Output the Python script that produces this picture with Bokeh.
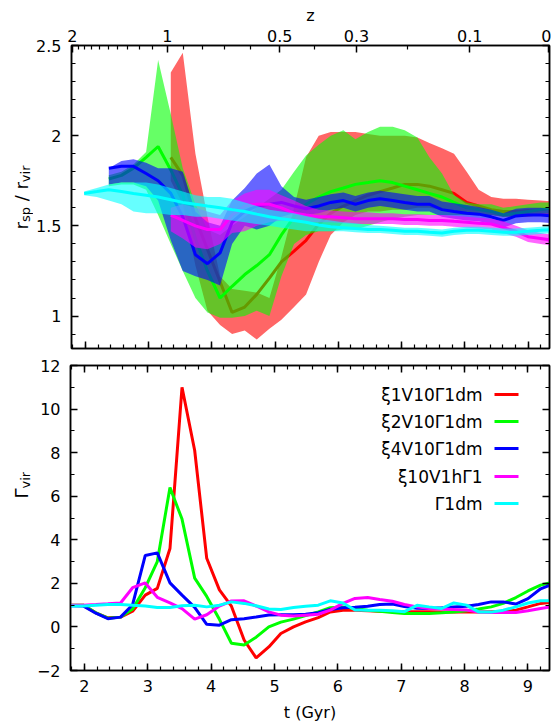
import math
from bokeh.plotting import figure
from bokeh.models import (Range1d, LinearAxis, FixedTicker, SingleIntervalTicker,
                          Label, BoxAnnotation)
from bokeh.layouts import column, row
from bokeh.embed import file_html
from bokeh.resources import INLINE

N = None

# ---------------- data ----------------
t_gyr = [1.79, 1.98, 2.18, 2.37, 2.57, 2.76, 2.96, 3.15, 3.35, 3.54,
         3.74, 3.93, 4.13, 4.32, 4.52, 4.71, 4.91, 5.10, 5.30, 5.49,
         5.69, 5.88, 6.08, 6.27, 6.47, 6.66, 6.86, 7.05, 7.25, 7.44,
         7.64, 7.83, 8.03, 8.22, 8.42, 8.61, 8.81, 9.00, 9.20, 9.39]

names = ["ξ1V10Γ1dm", "ξ2V10Γ1dm", "ξ4V10Γ1dm", "ξ10V1hΓ1", "Γ1dm"]
colors = ["#ff0000", "#00ff00", "#0000ff", "#ff00ff", "#00ffff"]

# top panel: r_sp / r_vir  (median line, lower and upper band edges)
rsp_red = [N]*8 + [1.88, 1.78, 1.54, 1.37, 1.19, 1.02, 1.05, 1.12, 1.21, 1.30,
                   1.36, 1.42, 1.51, 1.57, 1.61, 1.64, 1.67, 1.69, 1.71, 1.73,
                   1.73, 1.72, 1.70, 1.68, 1.63, 1.61, 1.59, 1.58, 1.58, 1.585,
                   1.59, 1.60]
lo_red = [N]*8 + [1.75, 1.62, 1.28, 1.03, 0.95, 0.90, 0.92, 0.87, 0.93, 0.98,
                  1.05, 1.12, 1.30, 1.45, 1.52, 1.56, 1.58, 1.58, 1.59, 1.59,
                  1.60, 1.60, 1.59, 1.58, 1.57, 1.56, 1.56, 1.55, 1.55, 1.55,
                  1.56, 1.56]
hi_red = [N]*8 + [2.35, 2.46, 1.90, 1.55, 1.22, 1.15, 1.14, 1.13, 1.10, 1.33,
                  1.60, 1.88, 2.00, 2.02, 2.02, 2.02, 2.01, 2.00, 2.00, 2.00,
                  1.99, 1.96, 1.93, 1.90, 1.80, 1.70, 1.66, 1.65, 1.65, 1.645,
                  1.64, 1.635]

rsp_green = [N]*3 + [1.76, 1.78, 1.82, 1.88, 1.94, 1.81, 1.67, 1.43, 1.25, 1.10,
                     1.165, 1.23, 1.28, 1.34, 1.45, 1.55, 1.62, 1.66, 1.69, 1.71,
                     1.73, 1.74, 1.75, 1.74, 1.72, 1.70, 1.68, 1.66, 1.63, 1.60,
                     1.59, 1.58, 1.56, 1.57, 1.58, 1.59, 1.60]
lo_green = [N]*3 + [1.72, 1.73, 1.73, 1.70, 1.56, 1.40, 1.25, 1.10, 1.02, 0.99,
                    0.99, 1.00, 1.03, 1.00, 1.22, 1.40, 1.45, 1.47, 1.47, 1.48,
                    1.48, 1.50, 1.52, 1.54, 1.55, 1.56, 1.56, 1.56, 1.56, 1.56,
                    1.56, 1.56, 1.55, 1.55, 1.56, 1.57, 1.57]
hi_green = [N]*3 + [1.78, 1.80, 1.84, 1.91, 2.42, 2.12, 1.82, 1.62, 1.48, 1.45,
                    1.50, 1.55, 1.60, 1.65, 1.70, 1.80, 1.89, 1.95, 2.00, 2.03,
                    1.98, 2.02, 2.05, 2.05, 2.03, 1.99, 1.88, 1.79, 1.67, 1.63,
                    1.62, 1.62, 1.60, 1.61, 1.62, 1.63, 1.63]

rsp_blue = [N]*3 + [1.82, 1.83, 1.83, 1.79, 1.75, 1.68, 1.55, 1.34, 1.29, 1.35,
                    1.52, 1.58, 1.61, 1.62, 1.63, 1.61, 1.595, 1.61, 1.63, 1.64,
                    1.62, 1.64, 1.65, 1.64, 1.63, 1.62, 1.62, 1.59, 1.58, 1.57,
                    1.565, 1.55, 1.53, 1.555, 1.56, 1.56, 1.555]
lo_blue = [N]*3 + [1.73, 1.74, 1.74, 1.72, 1.64, 1.42, 1.25, 1.22, 1.20, 1.17,
                   1.40, 1.50, 1.48, 1.50, 1.55, 1.57, 1.56, 1.57, 1.59, 1.60,
                   1.58, 1.60, 1.61, 1.60, 1.59, 1.58, 1.58, 1.55, 1.54, 1.53,
                   1.525, 1.51, 1.49, 1.515, 1.52, 1.52, 1.515]
hi_blue = [N]*3 + [1.82, 1.86, 1.87, 1.85, 1.82, 1.82, 1.80, 1.58, 1.52, 1.50,
                   1.64, 1.71, 1.79, 1.84, 1.72, 1.66, 1.645, 1.66, 1.675, 1.685,
                   1.665, 1.685, 1.695, 1.685, 1.675, 1.665, 1.665, 1.635, 1.625, 1.615,
                   1.605, 1.59, 1.57, 1.595, 1.60, 1.60, 1.595]

rsp_magenta = [N]*8 + [1.56, 1.53, 1.50, 1.48, 1.48, 1.56, 1.61, 1.62, 1.62, 1.60,
                       1.57, 1.56, 1.55, 1.55, 1.545, 1.54, 1.54, 1.54, 1.54, 1.535,
                       1.535, 1.53, 1.53, 1.525, 1.52, 1.515, 1.51, 1.49, 1.47, 1.44,
                       1.43, 1.42]
lo_magenta = [N]*8 + [1.47, 1.43, 1.38, 1.37, 1.40, 1.46, 1.47, 1.50, 1.52, 1.53,
                      1.53, 1.52, 1.52, 1.52, 1.515, 1.51, 1.51, 1.51, 1.51, 1.505,
                      1.505, 1.50, 1.50, 1.495, 1.49, 1.485, 1.48, 1.46, 1.44, 1.41,
                      1.40, 1.39]
hi_magenta = [N]*8 + [1.60, 1.62, 1.60, 1.58, 1.56, 1.64, 1.68, 1.70, 1.70, 1.67,
                      1.64, 1.61, 1.59, 1.585, 1.58, 1.575, 1.575, 1.57, 1.57, 1.565,
                      1.565, 1.56, 1.56, 1.555, 1.55, 1.545, 1.54, 1.525, 1.50, 1.475,
                      1.46, 1.45]

rsp_cyan = [N] + [1.68, 1.69, 1.70, 1.69, 1.68, 1.67, 1.66, 1.645, 1.63, 1.62,
                  1.61, 1.60, 1.59, 1.58, 1.565, 1.55, 1.54, 1.53, 1.52, 1.505,
                  1.495, 1.49, 1.485, 1.48, 1.48, 1.475, 1.47, 1.47, 1.465, 1.46,
                  1.47, 1.475, 1.475, 1.47, 1.465, 1.465, 1.47, 1.475, 1.48]
lo_cyan = [N] + [1.67, 1.66, 1.64, 1.62, 1.58, 1.57, 1.57, 1.56, 1.56, 1.55,
                 1.55, 1.54, 1.53, 1.52, 1.51, 1.50, 1.49, 1.48, 1.47, 1.47,
                 1.47, 1.47, 1.465, 1.46, 1.46, 1.455, 1.45, 1.45, 1.445, 1.44,
                 1.45, 1.455, 1.455, 1.45, 1.445, 1.445, 1.45, 1.455, 1.46]
hi_cyan = [N] + [1.69, 1.71, 1.73, 1.74, 1.74, 1.74, 1.73, 1.71, 1.69, 1.67,
                 1.66, 1.66, 1.65, 1.63, 1.61, 1.59, 1.58, 1.57, 1.555, 1.54,
                 1.53, 1.52, 1.515, 1.505, 1.50, 1.495, 1.49, 1.49, 1.485, 1.48,
                 1.49, 1.495, 1.495, 1.49, 1.485, 1.485, 1.49, 1.495, 1.50]

# bottom panel: Gamma_vir
gam_red = [1.0, 1.0, 0.65, 0.42, 0.45, 0.72, 1.46, 1.77, 3.6, 11.0,
           8.1, 3.15, 1.7, 0.95, -0.6, -1.42, -0.92, -0.3, 0.0, 0.23,
           0.43, 0.69, 0.77, 0.76, 0.74, 0.72, 0.71, 0.70, 0.70, 0.70,
           0.68, 0.68, 0.68, 0.69, 0.70, 0.70, 0.77, 0.92, 1.08, 1.14]
gam_green = [1.0, 1.0, 0.65, 0.40, 0.45, 0.82, 1.8, 3.0, 6.4, 4.95,
             2.24, 1.4, 0.35, -0.75, -0.83, -0.47, 0.0, 0.22, 0.36, 0.52,
             0.69, 0.88, 0.92, 0.85, 0.77, 0.72, 0.66, 0.62, 0.62, 0.62,
             0.65, 0.69, 0.74, 0.82, 0.92, 1.08, 1.35, 1.65, 1.92, 2.05]
gam_blue = [0.97, 0.96, 0.63, 0.38, 0.45, 1.02, 3.28, 3.4, 2.02, 1.46,
            0.9, 0.12, 0.08, 0.33, 0.38, 0.46, 0.55, 0.56, 0.56, 0.58,
            0.65, 0.8, 0.88, 0.9, 0.95, 1.03, 1.05, 0.94, 0.86, 0.85,
            0.88, 0.92, 0.95, 1.03, 1.15, 1.15, 1.05, 1.3, 1.75, 1.97]
gam_magenta = [1.0, 1.0, 1.03, 1.06, 1.1, 1.8, 2.02, 1.36, 1.1, 0.84,
               0.36, 0.56, 0.96, 1.19, 1.2, 0.96, 0.69, 0.54, 0.5, 0.54,
               0.58, 0.77, 1.08, 1.31, 1.35, 1.26, 1.18, 1.03, 0.92, 0.85,
               0.82, 0.8, 0.78, 0.69, 0.66, 0.66, 0.66, 0.74, 0.85, 0.93]
gam_cyan = [0.96, 0.96, 1.0, 1.03, 1.03, 1.0, 0.96, 0.89, 0.89, 0.97,
            1.0, 0.92, 1.0, 1.15, 1.08, 0.97, 0.82, 0.8, 0.89, 0.95,
            1.0, 1.2, 1.1, 0.78, 0.77, 0.77, 0.74, 0.7, 0.99, 0.92,
            0.85, 1.1, 1.0, 0.69, 0.68, 0.77, 0.92, 1.1, 1.2, 1.2]

# redshift axis (top)
z_major = [2, 1, 0.5, 0.3, 0.1, 0]
z_major_labels = ["2", "1", "0.5", "0.3", "0.1", "0"]
z_minor = [1.9, 1.8, 1.7, 1.6, 1.5, 1.4, 1.3, 1.2, 1.1,
           0.9, 0.8, 0.7, 0.6, 0.4, 0.2]
T0 = 9.32  # Gyr at z = 0 on this time axis


def t_of_z(z):
    return round(T0 * (1.0 + z) ** -1.5, 5)


FONT = "DejaVu Sans"
TICK_FS = "16px"
X0, X1 = 1.78, 9.34
LAB_W = 33           # width of the strip that carries the rotated y titles
MAIN_W = 551 - LAB_W


def style_axis(ax, labels=True):
    ax.major_tick_in = 7
    ax.major_tick_out = 0
    ax.minor_tick_in = 4
    ax.minor_tick_out = 0
    ax.axis_line_width = 1.5
    ax.major_tick_line_width = 1.5
    ax.minor_tick_line_width = 1.2
    ax.axis_line_color = "black"
    ax.major_tick_line_color = "black"
    ax.minor_tick_line_color = "black"
    ax.major_label_text_font = FONT
    ax.axis_label_text_font = FONT
    ax.axis_label_text_font_style = "normal"
    ax.axis_label_text_color = "black"
    if labels:
        ax.major_label_text_font_size = TICK_FS
        ax.major_label_text_color = "black"
    else:
        ax.major_label_text_color = None
        ax.major_label_text_font_size = "1px"
        ax.major_label_standoff = 0


def make_fig(height, ylo, yhi, top, bottom, yticker):
    p = figure(width=MAIN_W, height=height, x_range=Range1d(X0, X1),
               y_range=Range1d(ylo, yhi), output_backend="svg",
               toolbar_location=None, min_border_left=69 - LAB_W, min_border_right=2,
               min_border_top=top, min_border_bottom=bottom)
    p.xgrid.visible = False
    p.ygrid.visible = False
    p.outline_line_color = "black"
    p.outline_line_width = 1.5
    p.background_fill_color = "white"
    p.border_fill_color = "white"
    p.xaxis.ticker = SingleIntervalTicker(interval=1, num_minor_ticks=5)
    p.yaxis.ticker = yticker
    for ax in p.yaxis:
        style_axis(ax)
        ax.major_label_standoff = 10
    ry = LinearAxis(ticker=yticker)
    style_axis(ry, labels=False)
    p.add_layout(ry, "right")
    return p


def make_title_strip(height, pieces, x_base, y_start):
    s = figure(width=LAB_W, height=height, x_range=Range1d(0, 1), y_range=Range1d(0, 1),
               output_backend="svg", toolbar_location=None,
               x_axis_location=None, y_axis_location=None,
               min_border_left=0, min_border_right=0, min_border_top=0, min_border_bottom=0)
    s.outline_line_color = None
    s.xgrid.visible = False
    s.ygrid.visible = False
    s.border_fill_color = "white"
    y = y_start
    for text, size, shift, width in pieces:
        s.add_layout(Label(x=x_base + shift, y=y, x_units="screen", y_units="screen",
                           text=text, angle=math.pi / 2, text_font=FONT,
                           text_font_size=f"{size}px", text_color="black",
                           text_align="left", text_baseline="alphabetic"))
        y += width
    return s


FS_MAIN = 18
FS_SUB = 13
SPACE = 0.318 * FS_MAIN

# ---------------- top panel ----------------
p1 = make_fig(350, 0.82, 2.5, 45, 2,
              SingleIntervalTicker(interval=0.5, num_minor_ticks=5))
for ax in p1.xaxis:
    style_axis(ax, labels=False)

zt = [t_of_z(z) for z in z_major]
ztm = [t_of_z(z) for z in z_minor]
zax = LinearAxis(ticker=FixedTicker(ticks=zt, minor_ticks=ztm),
                 major_label_overrides={tv: lab for tv, lab in zip(zt, z_major_labels)},
                 axis_label="z")
style_axis(zax)
zax.major_label_standoff = 4
zax.axis_label_standoff = 2
zax.axis_label_text_font_size = "16px"
p1.add_layout(zax, "above")

top_series = [
    (rsp_red, lo_red, hi_red),
    (rsp_green, lo_green, hi_green),
    (rsp_blue, lo_blue, hi_blue),
    (rsp_magenta, lo_magenta, hi_magenta),
    (rsp_cyan, lo_cyan, hi_cyan),
]
for (mid, lo, hi), c in zip(top_series, colors):
    idx = [i for i, v in enumerate(mid) if v is not None]
    xs = [t_gyr[i] for i in idx]
    p1.varea(x=xs, y1=[lo[i] for i in idx], y2=[hi[i] for i in idx],
             fill_color=c, fill_alpha=0.6)
    p1.line(x=xs, y=[mid[i] for i in idx], line_color=c, line_width=3)

s1 = make_title_strip(350, [("r", FS_MAIN, 0, 0.411 * FS_MAIN),
                            ("sp", FS_SUB, 3.5, 1.156 * FS_SUB + SPACE),
                            ("/ r", FS_MAIN, 0, 1.066 * FS_MAIN),
                            ("vir", FS_SUB, 3.5, 1.281 * FS_SUB)], 21, 119)

# ---------------- bottom panel ----------------
p2 = make_fig(377, -2, 12, 15, 57,
              SingleIntervalTicker(interval=2, num_minor_ticks=2))
for ax in p2.xaxis:
    style_axis(ax)
    ax.major_label_standoff = 9
    ax.axis_label = "t (Gyr)"
    ax.axis_label_text_font_size = "16px"
    ax.axis_label_standoff = 8
tx = LinearAxis(ticker=SingleIntervalTicker(interval=1, num_minor_ticks=5))
style_axis(tx, labels=False)
p2.add_layout(tx, "above")

gams = [gam_red, gam_green, gam_blue, gam_magenta, gam_cyan]
for g, c in zip(gams, colors):
    p2.line(x=t_gyr, y=g, line_color=c, line_width=3)

s2 = make_title_strip(377, [("Γ", FS_MAIN, 0, 0.557 * FS_MAIN),
                            ("vir", FS_SUB, 3.5, 1.281 * FS_SUB)], 21, 172)

# legend (text right-aligned, sample line to the right)
row_y = [276, 249, 222, 194, 167]
for name, c, yy in zip(names, colors, row_y):
    p2.add_layout(Label(x=412, y=yy, x_units="screen", y_units="screen",
                        text=name, text_font=FONT, text_font_size="17px",
                        text_color="black", text_align="right",
                        text_baseline="middle"))
    p2.add_layout(BoxAnnotation(left=424, right=448, bottom=yy - 1.5, top=yy + 1.5,
                                left_units="screen", right_units="screen",
                                bottom_units="screen", top_units="screen",
                                fill_color=c, fill_alpha=1.0, line_alpha=0))

layout = column(row(s1, p1), row(s2, p2))
open("out.html", "w").write(file_html(layout, INLINE))
